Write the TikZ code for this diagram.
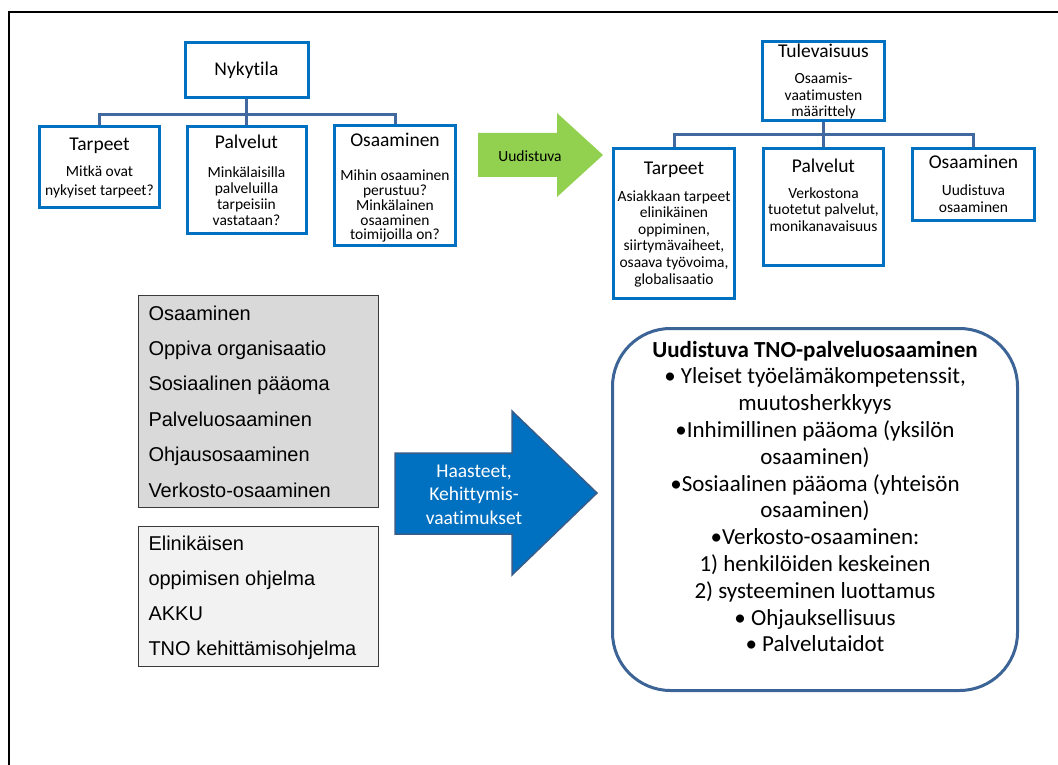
\documentclass[tikz,border=0pt]{standalone}
\usepackage{fontspec}
\setmainfont{Carlito}[Ligatures={NoCommon}]
\newfontfamily\arialf{Liberation Sans}
\definecolor{boxblue}{HTML}{0070C0}
\definecolor{connblue}{HTML}{41689F}
\definecolor{arrgreen}{HTML}{92D050}
\definecolor{arrblue}{HTML}{0070C0}
\definecolor{arredge}{HTML}{385D8A}
\definecolor{grayA}{HTML}{D9D9D9}
\definecolor{grayB}{HTML}{F2F2F2}
\definecolor{grayedge}{HTML}{3A3A3A}
\definecolor{rbedge}{HTML}{3D6496}
\newcommand\ctext[4]{\parbox[c][#2][t]{#1}{\lineskiplimit=-\maxdimen\hyphenpenalty=10000\exhyphenpenalty=10000\centering\rule{0pt}{#3}#4}}
\newcommand\ltext[4]{\parbox[c][#2][t]{#1}{\lineskiplimit=-\maxdimen\hyphenpenalty=10000\raggedright\leftskip=10pt\rule{0pt}{#3}#4}}
\newcommand\ttl{\fontsize{19.5}{22}\selectfont}
\newcommand\bdy[1]{\fontsize{15.5}{#1}\selectfont}
\begin{document}
\begin{tikzpicture}[x=1pt,y=-1pt,
  obox/.style={draw=boxblue, line width=3pt, fill=white, inner sep=0pt},
  conn/.style={draw=connblue, line width=3pt},
  gbox/.style={draw=grayedge, line width=1.3pt, inner sep=0pt},
  rbox/.style={draw=rbedge, line width=3pt, fill=white, rounded corners=58pt, inner sep=0pt},
  frame/.style={draw=black, line width=2pt}]
\useasboundingbox (0,0) rectangle (1058,765);
\draw[frame] (9,765) -- (9,12) -- (1058,12);

% left org chart
\node[obox, minimum width=123pt, minimum height=55pt, font=\ttl] (nyk) at (246.5,70) {Nykytila};
\node[obox] (tar1) at (99.5,167) {\ctext{120pt}{81pt}{24.5pt}{\ttl Tarpeet\par\vspace{8pt}\bdy{18}Mitkä ovat\\nykyiset tarpeet?}};
\node[obox] (pal1) at (246.5,180) {\ctext{119pt}{107pt}{21.5pt}{\ttl Palvelut\par\vspace{12.7pt}\bdy{16.3}Minkälaisilla\\palveluilla\\tarpeisiin\\vastataan?}};
\node[obox] (osa1) at (395,185.5) {\ctext{121pt}{120pt}{20.5pt}{\ttl Osaaminen\par\vspace{20pt}\bdy{14.75}Mihin osaaminen\\perustuu?\\Minkälainen\\osaaminen\\toimijoilla on?}};
\coordinate (busL) at (246.5,115);
\draw[conn] (nyk.south) -- (busL);
\draw[conn] (tar1.north) |- (busL) -| (osa1.north);
\draw[conn] (busL) -- (pal1.north);

% green arrow
\fill[arrgreen] (478,133) -- (557,133) -- (557,113) -- (603,155) -- (557,197) -- (557,177) -- (478,177) -- cycle;
\node[anchor=base, font=\fontsize{15.5}{18}\selectfont, inner sep=0pt] (uud) at (530,162) {Uudistuva};

% right org chart
\node[obox] (tul) at (823.5,81) {\ctext{122pt}{79pt}{16.5pt}{\ttl Tulevaisuus\par\vspace{9.5pt}\bdy{16.5}Osaamis-\\vaatimusten\\määrittely}};
\node[obox] (tar2) at (674,223.5) {\ctext{121pt}{150pt}{25.5pt}{\ttl Tarpeet\par\vspace{10.4pt}\bdy{16.6}Asiakkaan tarpeet\\elinikäinen\\oppiminen,\\siirtymävaiheet,\\osaava työvoima,\\globalisaatio}};
\node[obox] (pal2) at (823.5,207) {\ctext{120pt}{117pt}{23.5pt}{\ttl Palvelut\par\vspace{9.5pt}\bdy{16.5}Verkostona\\tuotetut palvelut,\\monikanavaisuus}};
\node[obox] (osa2) at (973.5,184.5) {\ctext{122pt}{72pt}{20.5pt}{\ttl Osaaminen\par\vspace{9pt}\bdy{17}Uudistuva\\osaaminen}};
\coordinate (busR) at (823.5,135);
\draw[conn] (tul.south) -- (busR);
\draw[conn] (tar2.north) |- (busR) -| (osa2.north);
\draw[conn] (busR) -- (pal2.north);

% gray boxes
\node[gbox, fill=grayA] (gA) at (258.5,401.5) {\ltext{240pt}{212pt}{24.5pt}{\arialf\fontsize{20}{35.4}\selectfont Osaaminen\\Oppiva organisaatio\\Sosiaalinen pääoma\\Palveluosaaminen\\Ohjausosaaminen\\Verkosto-osaaminen}};
\node[gbox, fill=grayB] (gB) at (258.5,596.5) {\ltext{240pt}{140pt}{23.5pt}{\arialf\fontsize{20}{35.3}\selectfont Elinikäisen\\oppimisen ohjelma\\AKKU\\TNO kehittämisohjelma}};

% blue arrow
\filldraw[fill=arrblue, draw=arredge, line width=1.5pt] (395,453) -- (512,453) -- (512,411) -- (597,493) -- (512,575) -- (512,534) -- (395,534) -- cycle;
\node[text=white, inner sep=0pt] (haa) at (474,496) {\ctext{110pt}{70pt}{16pt}{\fontsize{19.5}{23.5}\selectfont Haasteet,\\Kehittymis-\\vaatimukset}};

% rounded box
\node[rbox] (uno) at (815,509.5) {\ctext{405pt}{362pt}{28.5pt}{\fontsize{23}{26.8}\selectfont\textbf{Uudistuva TNO-palveluosaaminen}\\• Yleiset työelämäkompetenssit,\\muutosherkkyys\\•Inhimillinen pääoma (yksilön\\osaaminen)\\•Sosiaalinen pääoma (yhteisön\\osaaminen)\\•Verkosto-osaaminen:\\1) henkilöiden keskeinen\\2) systeeminen luottamus\\• Ohjauksellisuus\\• Palvelutaidot}};
\end{tikzpicture}
\end{document}
